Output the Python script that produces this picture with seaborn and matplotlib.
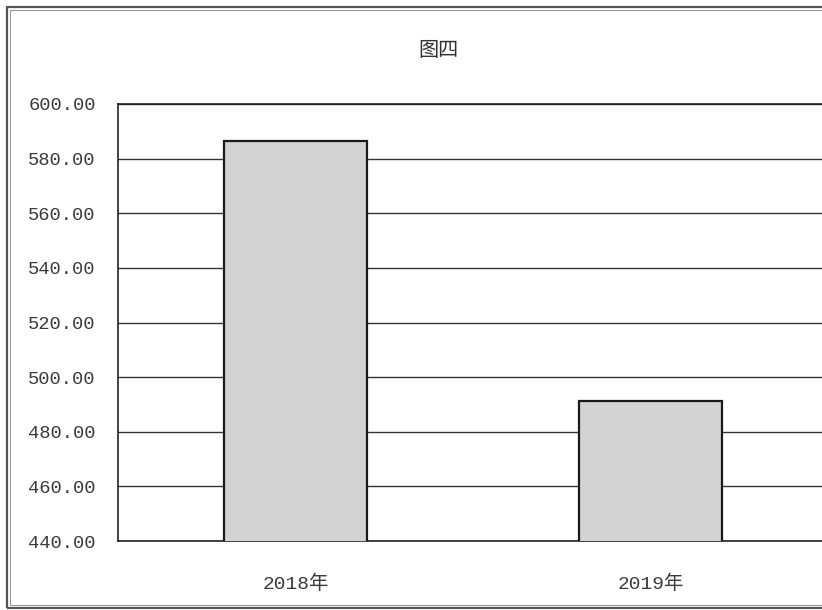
import numpy as np
import pandas as pd
import matplotlib
matplotlib.use('Agg')
import matplotlib.pyplot as plt
import seaborn as sns
from matplotlib.patches import Rectangle

# data
years = ['2018年', '2019年']
values = [586.6, 491.4]
y_ticks = [440, 460, 480, 500, 520, 540, 560, 580, 600]
title = '图四'

df = pd.DataFrame({'year': years, 'value': values})

sns.set_theme(style='white')
plt.rcParams['font.family'] = ['Liberation Mono', 'Noto Sans CJK SC', 'DejaVu Sans']

fig = plt.figure(figsize=(8.22, 6.10), dpi=100)
ax = fig.add_axes([118 / 822, 1 - 541 / 610, (828 - 118) / 822, (541 - 104) / 610])

sns.barplot(data=df, x='year', y='value', color='#d3d3d3', saturation=1,
            edgecolor='#1a1a1a', linewidth=1.6, width=0.405, ax=ax, zorder=3)

ax.set_ylim(440, 600)
ax.set_xlim(-0.5, 1.5)
ax.set_yticks(y_ticks)
ax.set_yticklabels(['%.2f' % v for v in y_ticks], fontsize=13.5, color='#3a3a3a')
ax.tick_params(axis='x', labelsize=14, colors='#3a3a3a', length=0, pad=24)
ax.tick_params(axis='y', length=0, pad=16)
ax.set_xlabel('')
ax.set_ylabel('')
ax.grid(axis='y', color='#333333', linewidth=1.0, zorder=0)
ax.set_axisbelow(True)
for s in ['left', 'top', 'bottom']:
    ax.spines[s].set_color('#222222')
    ax.spines[s].set_linewidth(1.2)
ax.spines['right'].set_visible(False)

fig.text(438 / 822, 1 - 50 / 610, title, ha='center', va='center', fontsize=14.5,
         color='#333333', family=['Noto Sans CJK SC', 'DejaVu Sans'])

# outer frame of the chart
fig.patches.append(Rectangle((7 / 822, 1 - 608 / 610), 1.0, (608 - 7) / 610,
                             transform=fig.transFigure, fill=False,
                             edgecolor='#555555', linewidth=1.6))
fig.patches.append(Rectangle((10 / 822, 1 - 605 / 610), 1.0, (605 - 10) / 610,
                             transform=fig.transFigure, fill=False,
                             edgecolor='#999999', linewidth=0.8))

plt.savefig('out.png', dpi=100)
